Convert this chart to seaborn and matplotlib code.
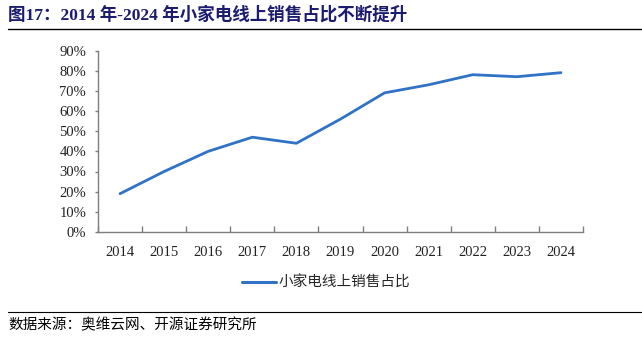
import numpy as np
import pandas as pd
import matplotlib
matplotlib.use("Agg")
import matplotlib.pyplot as plt
from matplotlib.lines import Line2D
from matplotlib.ticker import FixedLocator, PercentFormatter
import seaborn as sns

years = ["2014", "2015", "2016", "2017", "2018", "2019",
         "2020", "2021", "2022", "2023", "2024"]
online_share = [19, 30, 40, 47, 44, 56, 69, 73, 78, 77, 79]
series_name = "小家电线上销售占比"
title_text = "图17：2014 年-2024 年小家电线上销售占比不断提升"
source_text = "数据来源：奥维云网、开源证券研究所"
y_ticks = [0, 10, 20, 30, 40, 50, 60, 70, 80, 90]

sns.set_theme(style="white")
plt.rcParams["font.family"] = ["Liberation Serif", "Noto Sans CJK SC"]

df = pd.DataFrame({"pos": np.arange(len(years)), "share": online_share})

fig = plt.figure(figsize=(6.42, 3.38), dpi=100)
W, H = 642, 338
ax = fig.add_axes([98 / W, 1 - 232 / H, (583 - 98) / W, (232 - 50.5) / H])

line_color = "#2F72C6"
sns.lineplot(data=df, x="pos", y="share", ax=ax, color=line_color,
             linewidth=2.0, legend=False)

ax.set_xlim(-0.5, len(years) - 0.5)
ax.set_ylim(0, 90)
ax.set_xlabel("")
ax.set_ylabel("")

ax.xaxis.set_major_locator(FixedLocator(np.arange(len(years))))
ax.set_xticklabels(years)
ax.xaxis.set_minor_locator(FixedLocator(np.arange(len(years) + 1) - 0.5))
ax.tick_params(axis="x", which="major", length=0, pad=10, labelsize=10.5,
               labelcolor="#222222")
ax.tick_params(axis="x", which="minor", length=4, direction="in",
               color="#7f7f7f", width=1, bottom=True)

ax.set_yticks(y_ticks)
ax.yaxis.set_major_formatter(PercentFormatter(decimals=0))
ax.tick_params(axis="y", length=2.5, direction="out", color="#7f7f7f",
               width=1, left=True, labelsize=10.5, pad=6, labelcolor="#222222")

for side in ["top", "right"]:
    ax.spines[side].set_visible(False)
for side in ["left", "bottom"]:
    ax.spines[side].set_color("#7f7f7f")
    ax.spines[side].set_linewidth(1.0)

# legend drawn beneath the axes
handle = Line2D([], [], color=line_color, linewidth=2.2)
fig.legend([handle], [series_name], loc="center",
           bbox_to_anchor=(326 / W, 1 - 283 / H), frameon=False,
           handlelength=2.3, handletextpad=0.15,
           prop={"family": ["Noto Sans CJK SC"], "size": 10.5})

# title and source rules
fig.text(8 / W, 1 - 15 / H, title_text, ha="left", va="center",
         fontsize=12.6, fontweight="bold", color="#1B1B6F",
         family=["Liberation Serif", "Noto Sans CJK SC"])
fig.add_artist(Line2D([8 / W, 1.0], [1 - 28.5 / H, 1 - 28.5 / H],
                      color="black", linewidth=1.0))
fig.add_artist(Line2D([8 / W, 1.0], [1 - 312 / H, 1 - 312 / H],
                      color="black", linewidth=0.8))
fig.text(8 / W, 1 - 325 / H, source_text, ha="left", va="center",
         fontsize=10.5, color="black", family=["Noto Sans CJK SC"])

fig.savefig("out.png", dpi=100)
